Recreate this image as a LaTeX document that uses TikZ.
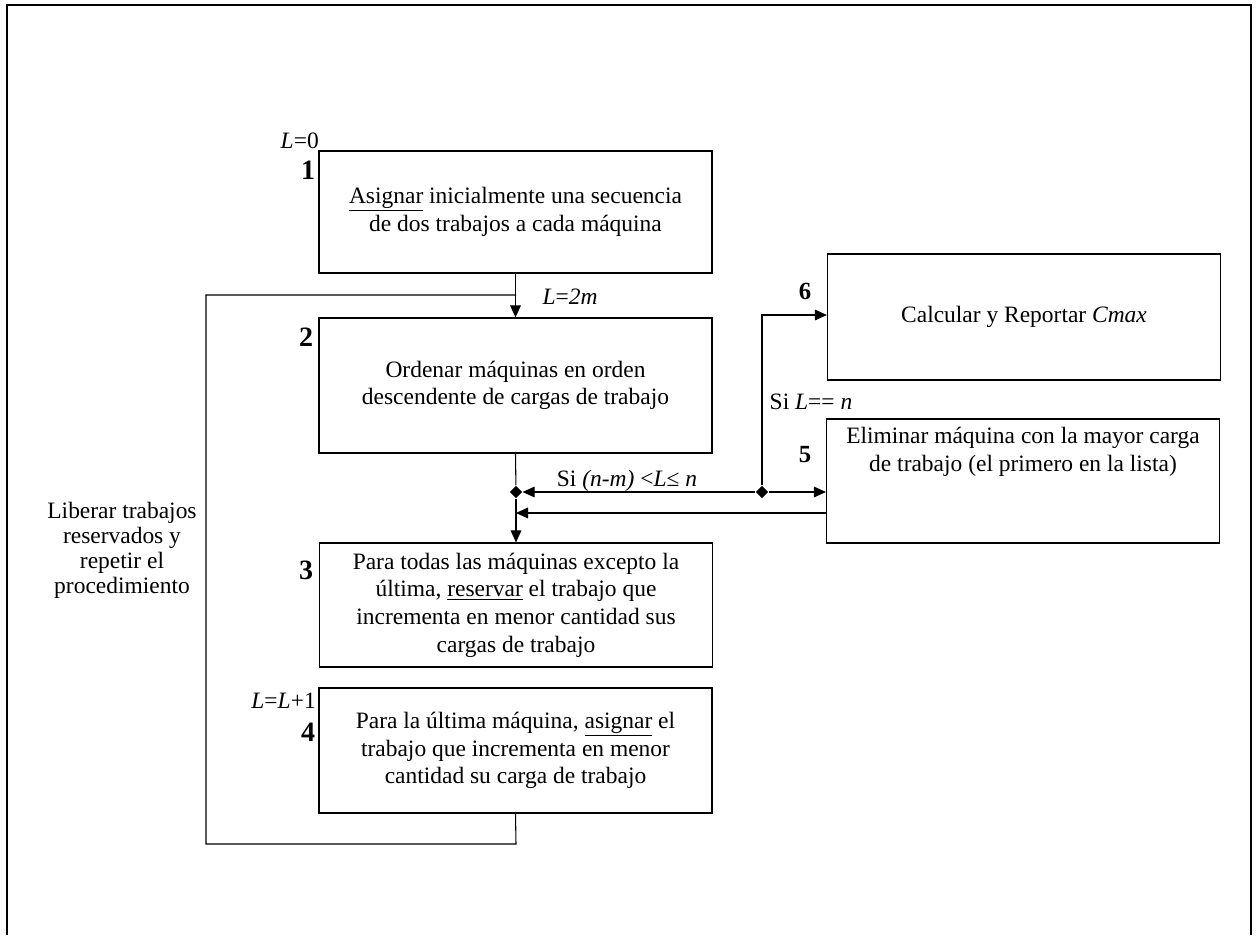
\documentclass[tikz,border=0pt]{standalone}
\usepackage{fontspec}
\setmainfont{Liberation Serif}
\usetikzlibrary{arrows.meta,shapes.geometric}
\begin{document}
\begin{tikzpicture}[x=0.75pt,y=-0.75pt,
  font=\fontsize{17.6}{20.8}\selectfont,
  box/.style={draw,line width=0.9pt,rectangle,minimum width=294.75pt,inner sep=0pt,align=center},
  conn/.style={line width=0.8pt},
  arr/.style={line width=0.8pt,-{Triangle[length=9pt,width=8pt]}},
  junc/.style={diamond,fill=black,inner sep=0pt,minimum size=9.5pt},
  num/.style={font=\fontsize{21}{24}\selectfont\bfseries,inner sep=0pt},
  numsm/.style={font=\fontsize{18.5}{22}\selectfont\bfseries,inner sep=0pt},
  lbl/.style={inner sep=0pt}
]
\useasboundingbox (0,0) rectangle (1256,935);
% outer frame
\draw[line width=2.2pt] (7,935) -- (7,5) -- (1251,5) -- (1251,935);

% boxes
\node[box,minimum height=91.5pt] (b1) at (515.5,212)
  {\underline{Asignar} inicialmente una secuencia\\de dos trabajos a cada máquina};
\node[box,minimum height=101.25pt] (b2) at (515.5,385.5)
  {Ordenar máquinas en orden\\descendente de cargas de trabajo};
\node[box,minimum height=93pt] (b3) at (516,605)
  {Para todas las máquinas excepto la\\última, \underline{reservar} el trabajo que\\incrementa en menor cantidad sus\\cargas de trabajo};
\node[box,minimum height=93.75pt] (b4) at (515.5,750.5)
  {Para la última máquina, \underline{asignar} el\\trabajo que incrementa en menor\\cantidad su carga de trabajo};
\node[box,minimum height=94.5pt] (b6) at (1024,317)
  {Calcular y Reportar \textit{Cmax}};
\node[box,minimum height=93pt] (b5) at (1023,481) {};
\node[lbl,align=center] (b5t) at (1023,452)
  {Eliminar máquina con la mayor carga\\de trabajo (el primero en la lista)};

% junctions and coordinates
\node[junc] (j1) at (516,492) {};
\node[junc] (j2) at (762,492) {};
\coordinate (c6) at (762,315);
\coordinate (m2) at (516,513);
\coordinate (l1) at (516,844);
\coordinate (l2) at (206,844);
\coordinate (l3) at (206,295);
\coordinate (l4) at (516,295);

% connectors
\draw[arr] (b1.south) -- (b2.north);
\draw[conn] (b4.south) -- (l1) -- (l2) -- (l3) -- (l4);
\draw[conn] (b2.south) -- (j1);
\draw[arr] (j1) -- (b3.north);
\draw[arr] (j2) -- (j1);
\draw[arr] (j2) -- (b5.west |- j2);
\draw[arr] (j2) -- (c6) -- (b6.west |- c6);
\draw[arr] (b5.west |- m2) -- (m2);

% labels
\node[lbl,anchor=east] (t0) at (319,141) {\textit{L}=0};
\node[num] (n1) at (308,170) {1};
\node[lbl] (t2m) at (570,297) {\textit{L}=\textit{2m}};
\node[num] (n2) at (306,337) {2};
\node[num] (n3) at (306,570) {3};
\node[lbl,anchor=east] (tl1) at (316,701) {\textit{L}=\textit{L}+1};
\node[num] (n4) at (308,732) {4};
\node[numsm] (n6) at (805,291) {6};
\node[numsm] (n5) at (805,455) {5};
\node[lbl] (tsi1) at (627,481) {Si \textit{(n-m)} <\textit{L}≤ \textit{n}};
\node[lbl] (tsi2) at (811,402) {Si \textit{L}== \textit{n}};
\node[lbl,align=center,font=\fontsize{17.6}{18.75}\selectfont] (tlib) at (122,550)
  {Liberar trabajos\\reservados y\\repetir el\\procedimiento};
\end{tikzpicture}
\end{document}
